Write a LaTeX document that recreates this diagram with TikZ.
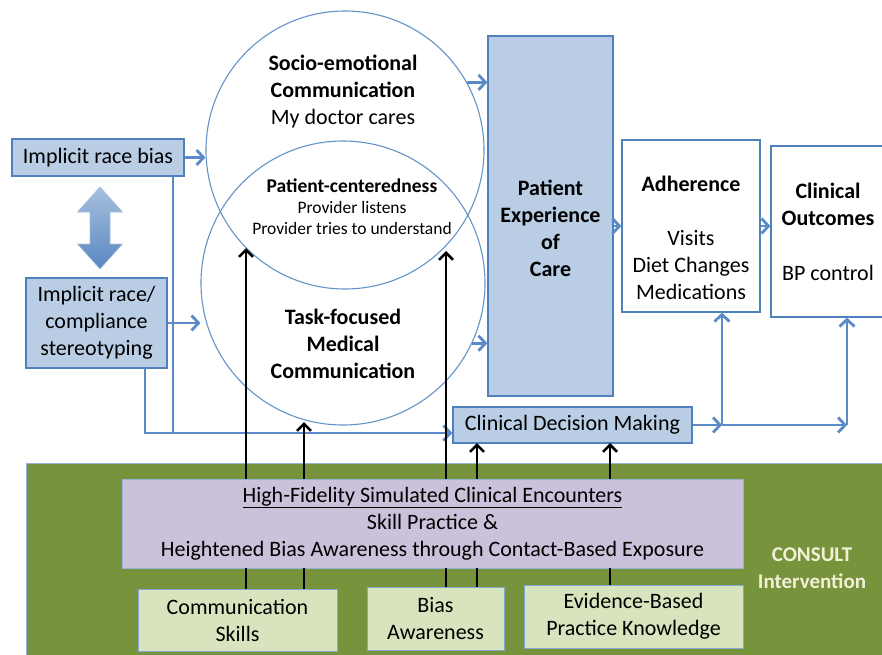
\documentclass[tikz,border=0pt]{standalone}
\usepackage{fontspec}
\setmainfont{Carlito}
\usetikzlibrary{arrows.meta}

\definecolor{edgeblue}{HTML}{4F81BD}
\definecolor{flowblue}{HTML}{5A8AC8}
\definecolor{ringblue}{HTML}{6593C8}
\definecolor{paleblue}{HTML}{B9CDE5}
\definecolor{olivebg}{HTML}{77933C}
\definecolor{palegreen}{HTML}{D7E4BD}
\definecolor{lavender}{HTML}{CCC1DA}
\definecolor{cream}{HTML}{F2F0D6}

\tikzset{
  bigtext/.style={font=\fontsize{22}{27}\selectfont, align=center},
  bigbold/.style={font=\fontsize{22}{27}\selectfont\bfseries, align=center},
  smalltext/.style={font=\fontsize{17.5}{21}\selectfont, align=center},
  plainbox/.style={draw=edgeblue, line width=1.2pt, inner sep=0pt, bigtext},
  bluebox/.style={plainbox, fill=paleblue},
  whitebox/.style={plainbox, fill=white},
  greenbox/.style={plainbox, draw=edgeblue!70, line width=0.8pt, fill=palegreen},
  ring/.style={circle, draw=ringblue, line width=1.1pt, inner sep=0pt},
  flowline/.style={flowblue, line width=2.8pt},
  flow/.style={flowline, -{Straight Barb[length=7pt,width=15pt]}},
  tie/.style={black, line width=2.5pt},
  push/.style={tie, -{Straight Barb[length=7pt,width=14pt]}},
}

\begin{document}
\begin{tikzpicture}[x=1pt, y=-1pt]
    \useasboundingbox (0,0) rectangle (882,654);
    \fill[white] (0,0) rectangle (882,654);

    % intervention area
    \filldraw[fill=olivebg, draw=edgeblue!60, line width=0.8pt] (26,463) rectangle (890,660);
    \node[bigbold, text=cream, font=\fontsize{21}{27}\selectfont\bfseries] (consult) at (812,568) {CONSULT\\Intervention};

    % left side
    \node[bluebox, minimum width=172pt, minimum height=37pt] (bias) at (98,157.5) {Implicit race bias};
    \node[bluebox, minimum width=141pt, minimum height=90pt] (stereo) at (96.5,323) {Implicit race/\\compliance\\stereotyping};
    \shadedraw[top color=edgeblue!50, bottom color=edgeblue!95, draw=edgeblue!50, line width=0.6pt]
        (100,187) -- (122.5,212) -- (110,212) -- (110,244) -- (122.5,244) -- (100,269)
        -- (77.5,244) -- (90,244) -- (90,212) -- (77.5,212) -- cycle;

    % communication circles
    \node[ring, minimum size=278pt] (socio) at (345,150) {};
    \node[ring, minimum size=284pt] (task) at (343,283) {};
    \node[bigtext] (sociotext) at (343,92) {\textbf{Socio-emotional}\\\textbf{Communication}\\My doctor cares};
    \node[smalltext] (pctext) at (352,207) {{\fontsize{19.5}{21}\selectfont\bfseries Patient-centeredness}\\Provider listens\\Provider tries to understand};
    \node[bigbold] (tasktext) at (343,344) {Task-focused\\Medical\\Communication};

    % outcomes
    \node[bluebox, minimum width=125pt, minimum height=360pt] (pec) at (550.5,216) {};
    \node[bigbold] (pectext) at ([yshift=-12pt]pec.center) {Patient\\Experience\\of\\Care};
    \node[whitebox, minimum width=138pt, minimum height=172pt] (adh) at (691,226) {};
    \node[bigtext] (adhtext) at ([yshift=-12pt]adh.center) {\textbf{Adherence}\\[27pt]Visits\\Diet Changes\\Medications};
    \node[whitebox, minimum width=118pt, minimum height=171pt] (outc) at (830,231.5) {};
    \node[bigtext] (outctext) at (828,231.5) {\textbf{Clinical}\\\textbf{Outcomes}\\[28pt]BP control};
    \node[bluebox, minimum width=239pt, minimum height=36pt] (cdm) at (572.5,425) {Clinical Decision Making};

    % intervention boxes
    \node[plainbox, draw=edgeblue!60, line width=0.8pt, fill=lavender, minimum width=621pt, minimum height=89pt] (sim) at (432.5,523.5)
        {\underline{High-Fidelity Simulated Clinical Encounters}\\Skill Practice \&\\Heightened Bias Awareness through Contact-Based Exposure};
    \node[greenbox, minimum width=199pt, minimum height=62pt] (comm) at (237.5,620) {Communication\\Skills};
    \node[greenbox, minimum width=137pt, minimum height=63pt] (aware) at (435.5,618.5) {Bias\\Awareness};
    \node[greenbox, minimum width=219pt, minimum height=63pt] (ebp) at (633.5,616.5) {Evidence-Based\\Practice Knowledge};

    % blue connectors
    \coordinate (drop) at (173,433);
    \coordinate (lane) at (145,433);
    \coordinate (fork1) at (722,425);
    \coordinate (fork2) at (847,425);
    \draw[flow] (bias.east) -- (bias.east -| socio.west);
    \draw[flow] (stereo.east) -- (stereo.east -| task.west);
    \draw[flowline] (bias.south -| drop) -- (drop);
    \draw[flow] (stereo.south -| lane) |- (lane -| cdm.west);
    \draw[flow] (socio.29) -- (socio.29 -| pec.west);
    \draw[flow] (task.-25) -- (task.-25 -| pec.west);
    \draw[flow] (pec.east |- adh.west) -- (adh.west);
    \draw[flow] (adh.east) -- (adh.east -| outc.west);
    \draw[flow] (cdm.east) -- (fork1);
    \draw[flow] (fork1) -- (fork2);
    \draw[flow] (fork1) -- (fork1 |- adh.south);
    \draw[flow] (fork2) -- (fork2 |- outc.south);

    % black arrows from the intervention
    \coordinate (tipA) at (246,248);
    \coordinate (tipB) at (304,422);
    \coordinate (tipC) at (446,251);
    \coordinate (tipD) at (477,443);
    \coordinate (tipE) at (610,443);
    \foreach \t/\f in {tipA/comm, tipB/comm, tipC/aware, tipD/aware, tipE/ebp} {
        \draw[tie] (\t |- \f.north) -- (\t |- sim.south);
        \draw[push] (\t |- sim.north) -- (\t);
    }
\end{tikzpicture}
\end{document}
